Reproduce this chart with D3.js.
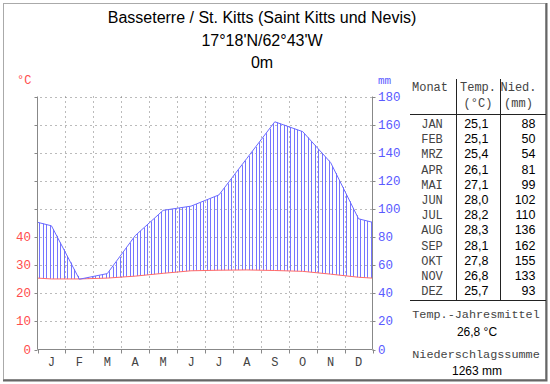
<!DOCTYPE html>
<html><head><meta charset="utf-8">
<script src="https://cdn.jsdelivr.net/npm/d3@7"></script>
<style>body{margin:0;background:#fff}svg{display:block}</style>
</head><body>
<script>
const titleLines = ["Basseterre / St. Kitts (Saint Kitts und Nevis)", "17°18'N/62°43'W", "0m"];
const months = ["J","F","M","A","M","J","J","A","S","O","N","D"];
const monthCodes = ["JAN","FEB","MRZ","APR","MAI","JUN","JUL","AUG","SEP","OKT","NOV","DEZ"];
const temps = [25.1,25.1,25.4,26.1,27.1,28.0,28.2,28.3,28.1,27.8,26.8,25.7];
const precip = [88,50,54,81,99,102,110,136,162,155,133,93];
const tempTicks = [0,10,20,30,40];
const tempGrid = [0,10,20,30,40,50,60,70,80,90];
const precipTicks = [0,20,40,60,80,100,120,140,160,180];
const meanTemp = "26,8 °C";
const sumPrecip = "1263 mm";

const W = 550, H = 384;
const svg = d3.select("body").append("svg").attr("width", W).attr("height", H);
const mono = "'Liberation Mono', 'Courier New', monospace";
const sans = "'Liberation Sans', Arial, sans-serif";
const red = "#ff4d4d", blue = "#5a5aff";

// frame
svg.append("rect").attr("x",3.5).attr("y",3.5).attr("width",542).attr("height",376)
  .attr("fill","#fff").attr("stroke","#aaa");
svg.append("path").attr("d","M546.5,3 V380.5 H3").attr("fill","none").attr("stroke","#666").attr("stroke-width",2);

// title
titleLines.forEach((t,i)=>{
  svg.append("text").attr("x",262).attr("y",23+i*22.5).attr("text-anchor","middle")
    .attr("font-family",sans).attr("font-size",16).attr("fill","#000").text(t);
});

const x0 = 37.5, x1 = 372.5, yb = 349.5, yt = 96.5;
const x = d3.scaleLinear().domain([0,12]).range([x0,x1]);
const yT = d3.scaleLinear().domain([0,90]).range([yb,yt]);
const yP = d3.scaleLinear().domain([0,180]).range([yb,yt]);

// grid
const g = svg.append("g");
tempGrid.slice(1).forEach(v=>{
  g.append("line").attr("x1",x0+3).attr("x2",x1).attr("y1",Math.round(yT(v))+0.5).attr("y2",Math.round(yT(v))+0.5)
    .attr("stroke","#777").attr("stroke-dasharray","1,4");
});
d3.range(1,12).forEach(m=>{
  g.append("line").attr("x1",Math.round(x(m))+0.5).attr("x2",Math.round(x(m))+0.5).attr("y1",yt).attr("y2",yb)
    .attr("stroke","#777").attr("stroke-dasharray","1,4");
});

// curves: month centres plus wrap-around edge values
const pos = [0, ...d3.range(12).map(i=>i+0.5), 12];
const tEdge = (temps[0]+temps[11])/2, pEdge = (precip[0]+precip[11])/2;
const tVals = [tEdge, ...temps, tEdge];
const pVals = [pEdge, ...precip, pEdge];
const tInterp = d3.scaleLinear().domain(pos).range(tVals);
const pInterp = d3.scaleLinear().domain(pos).range(pVals);

// hatching
const hatch = svg.append("g");
d3.range(96).forEach(i=>{
  const m = (i+0.5)/8;
  const tv = tInterp(m)*2, pv = pInterp(m);
  const xx = Math.round(x(m))+0.5;
  if (pv > tv) {
    hatch.append("line").attr("x1",xx).attr("x2",xx).attr("y1",yP(tv)).attr("y2",yP(pv))
      .attr("stroke","#7575ff").attr("stroke-width",1);
  } else if (tv - pv > 0.5) {
    hatch.append("line").attr("x1",xx).attr("x2",xx).attr("y1",yP(pv)).attr("y2",yP(tv))
      .attr("stroke",red).attr("stroke-dasharray","1,2");
  }
});

const lineT = d3.line().x((d,i)=>x(pos[i])).y(d=>yT(d));
const lineP = d3.line().x((d,i)=>x(pos[i])).y(d=>yP(d));
svg.append("path").attr("d",lineT(tVals)).attr("fill","none").attr("stroke","#ff6a6a").attr("stroke-width",1);
svg.append("path").attr("d",lineP(pVals)).attr("fill","none").attr("stroke","#6a6aff").attr("stroke-width",1);

// axes
const axisColor = "#888";
svg.append("line").attr("x1",x0).attr("x2",x0).attr("y1",yt).attr("y2",yb).attr("stroke",axisColor);
svg.append("line").attr("x1",x1).attr("x2",x1).attr("y1",yt).attr("y2",yb).attr("stroke",axisColor);
svg.append("line").attr("x1",x0).attr("x2",x1).attr("y1",yb).attr("y2",yb).attr("stroke",axisColor);
tempGrid.forEach(v=>{
  const yy = Math.round(yT(v))+0.5;
  svg.append("line").attr("x1",x0-3).attr("x2",x0).attr("y1",yy).attr("y2",yy).attr("stroke",axisColor);
  svg.append("line").attr("x1",x1).attr("x2",x1+3).attr("y1",yy).attr("y2",yy).attr("stroke",axisColor);
});
d3.range(0,13).forEach(m=>{
  const xx = Math.round(x(m))+0.5;
  svg.append("line").attr("x1",xx).attr("x2",xx).attr("y1",yb).attr("y2",yb+4).attr("stroke",axisColor);
});
tempTicks.forEach(v=>{
  svg.append("text").attr("x",31).attr("y",yT(v)+4).attr("text-anchor","end")
    .attr("font-family",mono).attr("font-size",12.5).attr("fill",red).text(v);
});
precipTicks.forEach(v=>{
  svg.append("text").attr("x",378).attr("y",yP(v)+4).attr("text-anchor","start")
    .attr("font-family",mono).attr("font-size",12.5).attr("fill",blue).text(v);
});
svg.append("text").attr("x",17).attr("y",84).attr("font-family",mono).attr("font-size",12).attr("fill",red).text("°C");
svg.append("text").attr("x",378).attr("y",84).attr("font-family",mono).attr("font-size",11).attr("fill",blue).text("mm");
months.forEach((mm,i)=>{
  svg.append("text").attr("x",x(i+0.5)).attr("y",366).attr("text-anchor","middle")
    .attr("font-family",mono).attr("font-size",12).attr("fill","#444").text(mm);
});

// table
const tb = svg.append("g");
tb.append("line").attr("x1",410).attr("x2",546).attr("y1",114.5).attr("y2",114.5).attr("stroke","#222");
tb.append("line").attr("x1",410).attr("x2",546).attr("y1",300.5).attr("y2",300.5).attr("stroke","#222");
[456.5,500.5].forEach(xx=>tb.append("line").attr("x1",xx).attr("x2",xx).attr("y1",79).attr("y2",300).attr("stroke","#222"));
const hdr = [["Monat",430,91],["Temp.",478,91],["(°C)",478,107],["Nied.",518.5,91],["(mm)",518.5,107]];
hdr.forEach(([t,xx,yy])=>tb.append("text").attr("x",xx).attr("y",yy).attr("text-anchor","middle")
  .attr("font-family",mono).attr("font-size",12).attr("fill","#444").text(t));
monthCodes.forEach((c,i)=>{
  const yy = 128 + i*15.2;
  tb.append("text").attr("x",432).attr("y",yy).attr("text-anchor","middle").attr("font-family",mono)
    .attr("font-size",12).attr("fill","#444").text(c);
  tb.append("text").attr("x",488.5).attr("y",yy).attr("text-anchor","end").attr("font-family",sans)
    .attr("font-size",12.5).attr("fill","#000").text(temps[i].toFixed(1).replace(".",","));
  tb.append("text").attr("x",535.5).attr("y",yy).attr("text-anchor","end").attr("font-family",sans)
    .attr("font-size",12.5).attr("fill","#000").text(precip[i]);
});
tb.append("text").attr("x",476).attr("y",318).attr("text-anchor","middle").attr("font-family",mono)
  .attr("font-size",11.8).attr("fill","#444").text("Temp.-Jahresmittel");
tb.append("text").attr("x",477).attr("y",336).attr("text-anchor","middle").attr("font-family",sans)
  .attr("font-size",12).attr("fill","#000").text(meanTemp);
tb.append("text").attr("x",476).attr("y",358).attr("text-anchor","middle").attr("font-family",mono)
  .attr("font-size",11.8).attr("fill","#444").text("Niederschlagssumme");
tb.append("text").attr("x",477).attr("y",375).attr("text-anchor","middle").attr("font-family",sans)
  .attr("font-size",12).attr("fill","#000").text(sumPrecip);
</script>
</body></html>
